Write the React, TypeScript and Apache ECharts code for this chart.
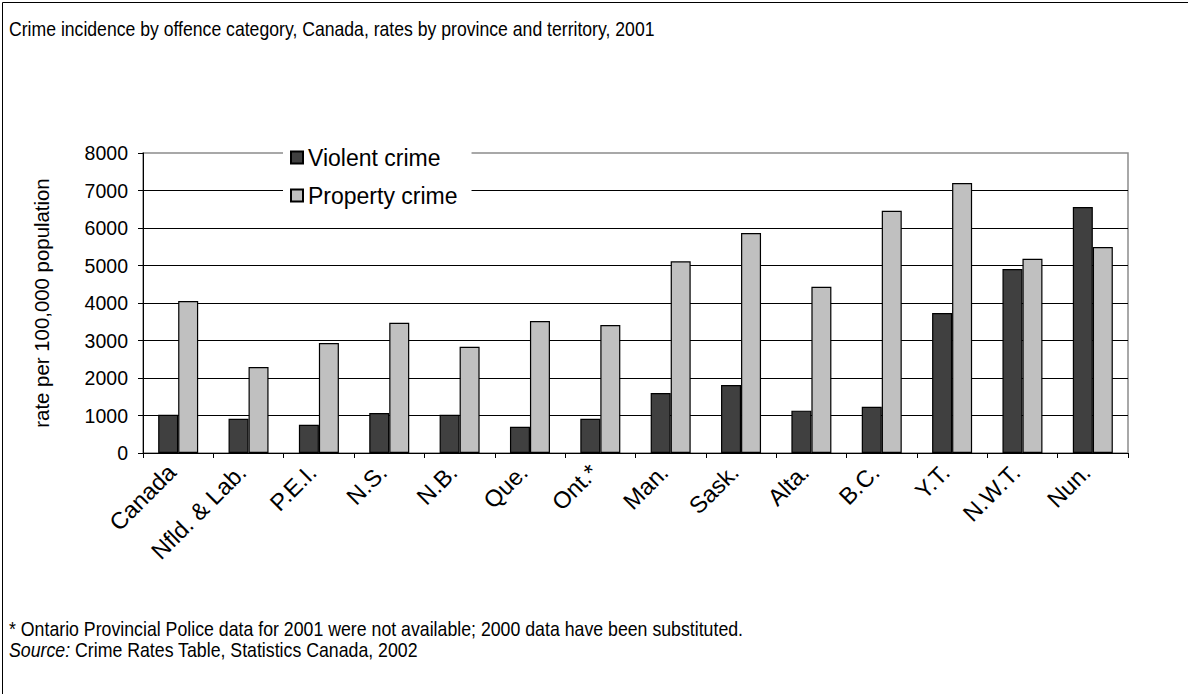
import React, { useEffect, useRef } from "react";
import * as echarts from "echarts";

const categories = ["Canada", "Nfld. & Lab.", "P.E.I.", "N.S.", "N.B.", "Que.", "Ont.*", "Man.", "Sask.", "Alta.", "B.C.", "Y.T.", "N.W.T.", "Nun."];
const violentCrime = [1020, 915, 755, 1065, 1020, 700, 915, 1600, 1815, 1130, 1235, 3735, 4905, 6560];
const propertyCrime = [4050, 2295, 2935, 3475, 2835, 3520, 3415, 5110, 5865, 4435, 6460, 7200, 5180, 5495];
const yTicks = [0, 8000, 1000];

const titleText = "Crime incidence by offence category, Canada, rates by province and territory, 2001";
const footnoteText = "* Ontario Provincial Police data for 2001 were not available; 2000 data have been substituted.";
const sourceLabel = "Source:";
const sourceText = " Crime Rates Table, Statistics Canada, 2002";
const yAxisTitle = "rate per 100,000 population";

const FONT = "'Liberation Sans', Arial, sans-serif";

export default function App() {
  const ref = useRef<HTMLDivElement>(null);
  useEffect(() => {
    document.body.style.margin = "0";
    const chart = echarts.init(ref.current!, null, { renderer: "svg" });
    chart.setOption({
      animation: false,
      backgroundColor: "#fff",
      textStyle: { fontFamily: FONT, color: "#000" },
      grid: {
        left: 143, top: 153, width: 985, height: 300,
        show: true, borderColor: "#8c8c8c", borderWidth: 1.5, backgroundColor: "transparent",
      },
      legend: {
        orient: "vertical",
        left: 283, top: 141,
        backgroundColor: "#fff",
        padding: [5, 14, 5, 7],
        itemGap: 15,
        itemWidth: 12, itemHeight: 12,
        icon: "rect",
        textStyle: { fontSize: 23, color: "#000", fontFamily: FONT },
        data: ["Violent crime", "Property crime"],
      },
      xAxis: {
        type: "category",
        data: categories,
        axisLine: { lineStyle: { color: "#000", width: 1 } },
        axisTick: { show: true, length: 5, interval: 0, alignWithLabel: false, lineStyle: { color: "#000" } },
        axisLabel: { interval: 0, rotate: 45, fontSize: 23.5, color: "#000", margin: 9, padding: [0, 9, 0, 0], fontFamily: FONT },
      },
      yAxis: {
        type: "value",
        min: yTicks[0], max: yTicks[1], interval: yTicks[2],
        name: yAxisTitle,
        nameLocation: "middle",
        nameRotate: 90,
        nameGap: 91,
        nameTextStyle: { fontSize: 20.4, color: "#000", fontFamily: FONT },
        axisLine: { show: true, lineStyle: { color: "#000", width: 1 } },
        axisTick: { show: true, length: 5, lineStyle: { color: "#000" } },
        axisLabel: { fontSize: 19.5, color: "#000", margin: 15, fontFamily: FONT, formatter: (v: number) => String(v) },
        splitLine: { show: true, showMaxLine: false, lineStyle: { color: "#000", width: 1 } },
      },
      series: [
        {
          name: "Violent crime", type: "bar", data: violentCrime,
          barWidth: 20, barGap: "0%",
          itemStyle: { color: "#404040", borderColor: "#000", borderWidth: 1.2 },
        },
        {
          name: "Property crime", type: "bar", data: propertyCrime,
          barWidth: 20, barGap: "0%",
          itemStyle: { color: "#c0c0c0", borderColor: "#000", borderWidth: 1.2 },
        },
      ],
      graphic: [
        {
          type: "rect", z: 100, silent: true,
          shape: { x: 2.5, y: 2.5, width: 1200, height: 700 },
          style: { fill: "none", stroke: "#000", lineWidth: 1 },
        },
        {
          type: "text", x: 9, y: 19, scaleX: 0.86,
          style: { text: titleText, font: `20.5px ${FONT}`, fill: "#000", verticalAlign: "top" },
        },
        {
          type: "text", x: 9, y: 619, scaleX: 0.865,
          style: { text: footnoteText, font: `20.5px ${FONT}`, fill: "#000", verticalAlign: "top" },
        },
        {
          type: "text", x: 9, y: 640, scaleX: 0.865,
          style: {
            text: `{i|${sourceLabel}}{n|${sourceText}}`,
            verticalAlign: "top",
            rich: {
              i: { fontStyle: "italic", fontSize: 20.5, fontFamily: FONT, fill: "#000" },
              n: { fontSize: 20.5, fontFamily: FONT, fill: "#000" },
            },
          },
        },
      ],
    });
    return () => chart.dispose();
  }, []);
  return <div ref={ref} style={{ width: 1188, height: 694 }} />;
}
